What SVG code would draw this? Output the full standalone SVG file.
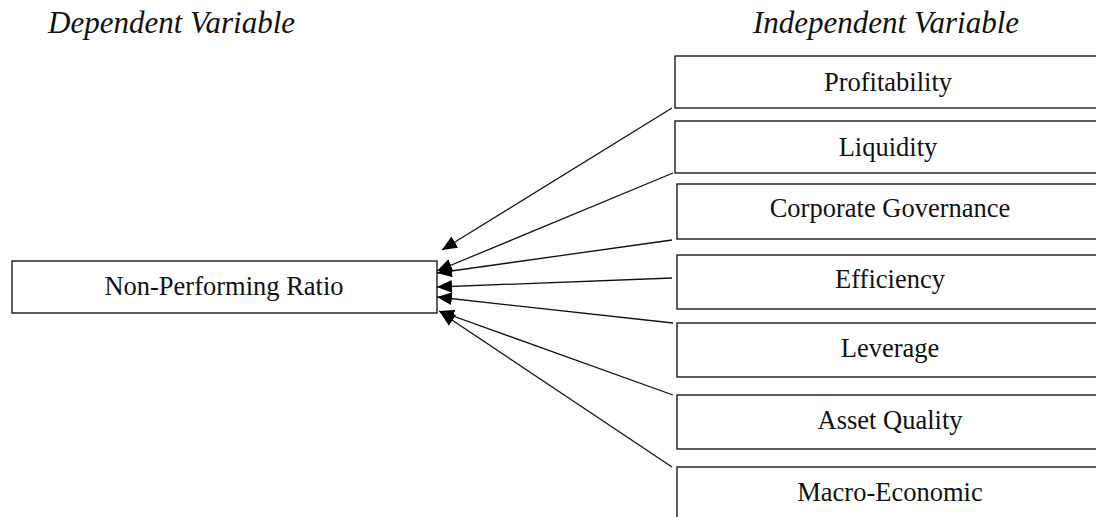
<svg xmlns="http://www.w3.org/2000/svg" width="1096" height="517" viewBox="0 0 1096 517">
<style>
.box{fill:#fff;stroke:#1a1a1a;stroke-width:1.4}
.lbl{font-family:"Liberation Serif",serif;font-size:26.5px;fill:#111;text-anchor:middle}
.hdr{font-family:"Liberation Serif",serif;font-style:italic;font-size:31px;fill:#111}
.con{stroke:#111;stroke-width:1.3;fill:none;marker-end:url(#ah)}
</style>
<defs>
<marker id="ah" markerUnits="userSpaceOnUse" markerWidth="16" markerHeight="14" refX="15" refY="6.5" orient="auto">
<path d="M0,0 L15,6.5 L0,13 z" fill="#000"/>
</marker>
</defs>
<rect width="1096" height="517" fill="#fff"/>
<text class="hdr" x="48" y="33">Dependent Variable</text>
<text class="hdr" x="753" y="33">Independent Variable</text>
<g id="npr"><rect class="box" x="12" y="261" width="425" height="52"/><text class="lbl" x="224" y="295">Non-Performing Ratio</text></g>
<g id="profitability"><rect class="box" x="675" y="56" width="430" height="52"/><text class="lbl" x="888" y="91">Profitability</text></g>
<g id="liquidity"><rect class="box" x="675" y="121" width="430" height="52"/><text class="lbl" x="888" y="156">Liquidity</text></g>
<g id="governance"><rect class="box" x="677" y="184" width="430" height="55"/><text class="lbl" x="890" y="217">Corporate Governance</text></g>
<g id="efficiency"><rect class="box" x="677" y="255" width="430" height="54"/><text class="lbl" x="890" y="288">Efficiency</text></g>
<g id="leverage"><rect class="box" x="677" y="323" width="430" height="54"/><text class="lbl" x="890" y="357">Leverage</text></g>
<g id="assetquality"><rect class="box" x="677" y="395" width="430" height="54"/><text class="lbl" x="890" y="429">Asset Quality</text></g>
<g id="macro"><rect class="box" x="677" y="467" width="430" height="60"/><text class="lbl" x="890" y="501">Macro-Economic</text></g>
<g id="connectors">
<line class="con" x1="672" y1="108" x2="442" y2="250"/>
<line class="con" x1="673" y1="173" x2="437" y2="271"/>
<line class="con" x1="672" y1="240" x2="437" y2="273"/>
<line class="con" x1="672" y1="278" x2="437" y2="287"/>
<line class="con" x1="673" y1="323" x2="437" y2="297"/>
<line class="con" x1="673" y1="395" x2="439" y2="311"/>
<line class="con" x1="672" y1="467" x2="440" y2="312"/>
</g>
</svg>
